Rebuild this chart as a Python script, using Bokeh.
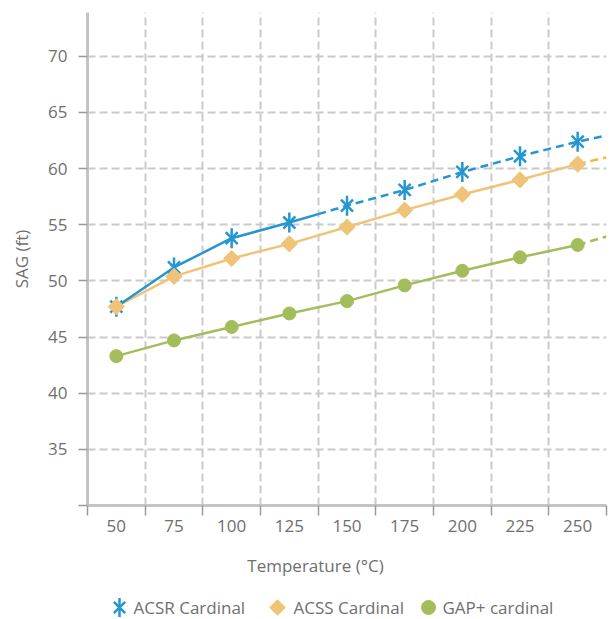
import numpy as np
from bokeh.plotting import figure
from bokeh.models import Range1d, FixedTicker
from bokeh.layouts import column
from bokeh.embed import file_html
from bokeh.resources import INLINE
from bokeh.core.properties import value

# ---------------- data ----------------
temps = [50, 75, 100, 125, 150, 175, 200, 225, 250]
x_labels = ["50", "75", "100", "125", "150", "175", "200", "225", "250"]
acsr = [47.7, 51.2, 53.8, 55.2, 56.7, 58.1, 59.7, 61.1, 62.4]
acss = [47.7, 50.4, 52.0, 53.3, 54.8, 56.3, 57.7, 59.0, 60.4]
gap = [43.3, 44.7, 45.9, 47.1, 48.2, 49.6, 50.9, 52.1, 53.2]
# value of each line where it leaves the plot on the right
edge_temp = 262.5
acsr_edge = 62.95
acss_edge = 61.0
gap_edge = 53.95
# temperature from which each line is drawn dashed
acsr_dash_from = 137.5
acss_dash_from = 250
gap_dash_from = 250
y_ticks = [30, 35, 40, 45, 50, 55, 60, 65, 70]
series_names = ["ACSR Cardinal", "ACSS Cardinal", "GAP+ cardinal"]
x_title = "Temperature (°C)"
y_title = "SAG (ft)"

# ---------------- style ----------------
BLUE = "#2596d1"
ORANGE = "#f0c478"
ORANGE_DASH = "#f5b43a"
GREEN = "#a3bd5a"
GRID = "#cacaca"
AXIS = "#c4c4c4"
TICK = "#9a9a9a"
TEXT = "#6f6f6f"
FONT = "Open Sans"
FS = "17px"

step = temps[1] - temps[0]
x_start = temps[0] - step / 2
x_end = temps[-1] + step / 2
boundaries = [x_start + step * i for i in range(len(temps) + 1)]

MAIN_H = 547
p = figure(width=609, height=MAIN_H,
           x_range=Range1d(x_start, x_end), y_range=Range1d(30, 73.9),
           output_backend="svg", toolbar_location=None,
           min_border_left=87, min_border_right=3,
           min_border_top=12, min_border_bottom=42)
p.outline_line_color = None
p.background_fill_color = "white"

# grid
p.xgrid.ticker = FixedTicker(ticks=boundaries[1:-1])
p.ygrid.ticker = FixedTicker(ticks=y_ticks[1:])
for g in (p.xgrid, p.ygrid):
    g.grid_line_color = GRID
    g.grid_line_width = 2
    g.grid_line_dash = "8 4"

# x axis
xa = p.xaxis[0]
xa.ticker = FixedTicker(ticks=temps, minor_ticks=boundaries)
xa.major_label_overrides = {t: l for t, l in zip(temps, x_labels)}
xa.major_tick_line_color = None
xa.major_tick_out = 10
xa.major_tick_in = 0
xa.minor_tick_out = 10
xa.minor_tick_in = 0
xa.minor_tick_line_color = TICK
xa.minor_tick_line_width = 1.5
xa.major_label_standoff = 4

# y axis
ya = p.yaxis[0]
ya.ticker = FixedTicker(ticks=y_ticks)
ya.major_label_overrides = {30: ""}
ya.major_tick_out = 9
ya.major_tick_in = 0
ya.major_tick_line_color = TICK
ya.major_tick_line_width = 1.5
ya.minor_tick_line_color = None
ya.major_label_standoff = 11
ya.axis_label = y_title
ya.axis_label_standoff = 12

for ax in (xa, ya):
    ax.axis_line_color = AXIS
    ax.axis_line_width = 3
    ax.major_label_text_font = FONT
    ax.major_label_text_font_size = FS
    ax.major_label_text_color = TEXT
    ax.axis_label_text_font = FONT
    ax.axis_label_text_font_size = FS
    ax.axis_label_text_color = TEXT
    ax.axis_label_text_font_style = "normal"


def split(xs, ys, ex, ey, at):
    fx = list(xs) + [ex]
    fy = list(ys) + [ey]
    y_at = float(np.interp(at, fx, fy))
    sx = [x for x in fx if x < at] + [at]
    sy = [y for x, y in zip(fx, fy) if x < at] + [y_at]
    dx = [at] + [x for x in fx if x > at]
    dy = [y_at] + [y for x, y in zip(fx, fy) if x > at]
    return sx, sy, dx, dy


LW = 2.5
# lines
gx, gy, gdx, gdy = split(temps, gap, edge_temp, gap_edge, gap_dash_from)
p.line(gx, gy, line_color=GREEN, line_width=LW)
p.line(gdx, gdy, line_color=GREEN, line_width=LW, line_dash="8 5")

ox, oy, odx, ody = split(temps, acss, edge_temp, acss_edge, acss_dash_from)
p.line(ox, oy, line_color=ORANGE, line_width=LW)
p.line(odx, ody, line_color=ORANGE_DASH, line_width=LW, line_dash="8 5")

bx, by, bdx, bdy = split(temps, acsr, edge_temp, acsr_edge, acsr_dash_from)
p.line(bx, by, line_color=BLUE, line_width=LW)
p.line(bdx, bdy, line_color=BLUE, line_width=LW, line_dash="8 5")

# markers
STAR_X, STAR_V = 17, 20
p.scatter(temps, acsr, marker="x", size=STAR_X, line_color=BLUE, line_width=2.5)
p.scatter(temps, acsr, marker="dash", angle=np.pi / 2, size=STAR_V,
          line_color=BLUE, line_width=2.5)
p.scatter(temps, acss, marker="square", angle=np.pi / 4, size=11.5,
          fill_color=ORANGE, line_color=ORANGE, line_width=1)
p.scatter(temps, gap, marker="circle", size=13,
          fill_color=GREEN, line_color=GREEN, line_width=1)

# ---------------- x title + legend (strip whose frame is aligned with the chart frame) ----------------
STRIP_H = 619 - MAIN_H
leg = figure(width=609, height=STRIP_H, x_range=Range1d(0, 519), y_range=Range1d(0, STRIP_H),
             output_backend="svg", toolbar_location=None,
             min_border_left=87, min_border_right=3, min_border_top=0, min_border_bottom=0,
             x_axis_type=None, y_axis_type=None)
leg.outline_line_color = None
leg.xgrid.visible = False
leg.ygrid.visible = False

# x-axis title
leg.text([228], [STRIP_H - 18], text=[x_title],
         text_font=value(FONT), text_font_size=FS, text_color=TEXT,
         text_baseline="middle", text_align="center")

ly = STRIP_H - 60
leg.scatter([32], [ly], marker="x", size=STAR_X - 1, line_color=BLUE, line_width=2.5)
leg.scatter([32], [ly], marker="dash", angle=np.pi / 2, size=STAR_V - 1,
            line_color=BLUE, line_width=2.5)
leg.scatter([190], [ly], marker="square", angle=np.pi / 4, size=11,
            fill_color=ORANGE, line_color=ORANGE)
leg.scatter([341], [ly], marker="circle", size=14,
            fill_color=GREEN, line_color=GREEN)
leg.text([46, 206, 355], [ly, ly, ly], text=series_names,
         text_font=value(FONT), text_font_size=FS, text_color=TEXT,
         text_baseline="middle", text_align="left")

layout = column(p, leg, spacing=0)
open("out.html", "w").write(file_html(layout, INLINE))
